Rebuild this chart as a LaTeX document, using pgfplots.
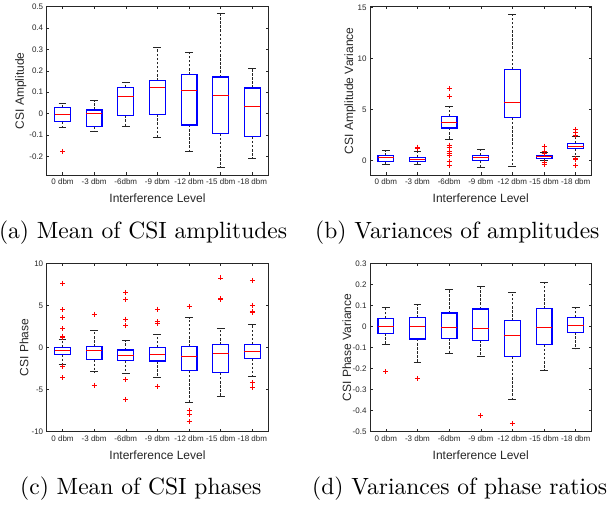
\documentclass[border=0pt]{standalone}
\usepackage{fontspec}
\setsansfont{Liberation Sans}
\newfontfamily\capfont{lmroman10-regular}[Extension=.otf]
\usepackage{pgfplots}
\pgfplotsset{compat=1.18}
\usepgfplotslibrary{statistics}

\definecolor{axgray}{RGB}{38,38,38}
\definecolor{boxblue}{RGB}{0,0,255}
\definecolor{medred}{RGB}{255,0,0}

\pgfplotsset{
  panel/.style={
    scale only axis, width=221.5pt, height=168.3pt,
    xmin=0.5, xmax=7.5, xtick={1,...,7},
    xticklabels={0 dbm,-3 dbm,-6dbm,-9 dbm,-12 dbm,-15 dbm,-18 dbm},
    tick align=inside, major tick length=2.5pt,
    axis line style={draw=axgray, line width=0.5pt},
    tick style={draw=axgray, line width=0.5pt},
    tick label style={font=\sffamily\fontsize{8}{9}\selectfont, text=axgray},
    label style={font=\sffamily\fontsize{12}{14}\selectfont, text=axgray},
    /pgf/number format/assume math mode=true,
    yticklabel style={/pgf/number format/fixed, /pgf/number format/precision=1},
    xlabel={Interference Level},
    x label style={at={(axis description cs:0.5,-0.137)}, anchor=center},
  },
  mybox/.style={
    draw=boxblue, color=boxblue,
    boxplot/draw direction=y,
    boxplot/box extend=0.5,
    boxplot/whisker extend=0.25,
    boxplot/draw/box/.code={%
      \draw[draw=boxblue, line width=1.2pt]
        (boxplot box cs:\pgfplotsboxplotvalue{lower quartile},0) rectangle
        (boxplot box cs:\pgfplotsboxplotvalue{upper quartile},1);
    },
    boxplot/draw/median/.code={%
      \draw[draw=medred, line width=1pt]
        (boxplot box cs:\pgfplotsboxplotvalue{median},0) --
        (boxplot box cs:\pgfplotsboxplotvalue{median},1);
    },
    boxplot/draw/lower whisker/.code={%
      \draw[axgray, line width=0.7pt, dash pattern=on 2.5pt off 1.6pt]
        (boxplot box cs:\pgfplotsboxplotvalue{lower quartile},0.5) --
        (boxplot box cs:\pgfplotsboxplotvalue{lower whisker},0.5);
      \draw[axgray, line width=0.8pt]
        (boxplot whisker cs:\pgfplotsboxplotvalue{lower whisker},0) --
        (boxplot whisker cs:\pgfplotsboxplotvalue{lower whisker},1);
    },
    boxplot/draw/upper whisker/.code={%
      \draw[axgray, line width=0.7pt, dash pattern=on 2.5pt off 1.6pt]
        (boxplot box cs:\pgfplotsboxplotvalue{upper quartile},0.5) --
        (boxplot box cs:\pgfplotsboxplotvalue{upper whisker},0.5);
      \draw[axgray, line width=0.8pt]
        (boxplot whisker cs:\pgfplotsboxplotvalue{upper whisker},0) --
        (boxplot whisker cs:\pgfplotsboxplotvalue{upper whisker},1);
    },
  },
  outl/.style={only marks, mark=+, mark size=2.5pt, medred, line width=0.9pt},
}

% position, lower whisker, lower quartile, median, upper quartile, upper whisker
\newcommand{\bx}[6]{\addplot[mybox, boxplot prepared={draw position=#1,
  lower whisker=#2, lower quartile=#3, median=#4,
  upper quartile=#5, upper whisker=#6}] coordinates {};}

\begin{document}
\begin{tikzpicture}
\useasboundingbox (0,0) rectangle (610pt,505pt);
\clip (0,0) rectangle (610pt,505pt);

% (a) mean of amplitudes
\begin{axis}[panel, at={(46.7pt,330pt)}, anchor=south west,
  ymin=-0.287, ymax=0.5, ytick={-0.2,-0.1,0,0.1,0.2,0.3,0.4,0.5},
  ylabel={CSI Amplitude},
  y label style={at={(axis description cs:-0.1175,0.5)}, anchor=center}]
\bx{1}{-0.066}{-0.038}{-0.006}{0.028}{0.047}
\bx{2}{-0.085}{-0.060}{0.000}{0.017}{0.063}
\bx{3}{-0.058}{-0.008}{0.079}{0.123}{0.146}
\bx{4}{-0.113}{-0.003}{0.123}{0.154}{0.311}
\bx{5}{-0.176}{-0.053}{0.108}{0.182}{0.285}
\bx{6}{-0.250}{-0.093}{0.085}{0.171}{0.469}
\bx{7}{-0.208}{-0.108}{0.033}{0.120}{0.212}
\addplot[outl] coordinates {(1,-0.176)};
\end{axis}

% (b) variance of amplitudes
\begin{axis}[panel, at={(370pt,330pt)}, anchor=south west,
  ymin=-1.45, ymax=15.1, ytick={0,5,10,15},
  ylabel={CSI Amplitude Variance},
  y label style={at={(axis description cs:-0.0904,0.5)}, anchor=center}]
\bx{1}{-0.43}{-0.16}{0.23}{0.49}{0.95}
\bx{2}{-0.43}{-0.13}{0.07}{0.30}{0.85}
\bx{3}{2.04}{3.18}{3.74}{4.33}{5.32}
\bx{4}{-0.66}{-0.03}{0.26}{0.49}{1.05}
\bx{5}{-0.59}{4.17}{5.65}{8.93}{14.35}
\bx{6}{-0.03}{0.20}{0.33}{0.46}{0.79}
\bx{7}{0.39}{1.12}{1.38}{1.64}{2.36}
\addplot[outl] coordinates {
  (2,1.28) (2,1.15)
  (3,7.03) (3,6.30) (3,1.48) (3,1.21) (3,0.89) (3,0.66) (3,0.49) (3,-0.10) (3,-0.49)
  (6,1.38) (6,0.89) (6,0.66) (6,-0.26) (6,-0.43)
  (7,3.02) (7,2.69) (7,2.45) (7,0.13) (7,0.07) (7,-0.49)
};
\end{axis}

% (c) mean of phases
\begin{axis}[panel, at={(46.7pt,73.3pt)}, anchor=south west,
  ymin=-10, ymax=10, ytick={-10,-5,0,5,10},
  ylabel={CSI Phase},
  y label style={at={(axis description cs:-0.1025,0.5)}, anchor=center}]
\bx{1}{-1.97}{-0.82}{-0.38}{0.00}{0.98}
\bx{2}{-2.89}{-1.41}{-0.30}{0.10}{2.01}
\bx{3}{-3.13}{-1.57}{-0.94}{-0.30}{0.90}
\bx{4}{-3.57}{-1.61}{-0.82}{0.00}{1.57}
\bx{5}{-6.57}{-2.77}{-1.02}{0.10}{3.57}
\bx{6}{-5.77}{-3.01}{-0.70}{0.34}{2.25}
\bx{7}{-3.37}{-1.30}{-0.42}{0.38}{2.77}
\addplot[outl] coordinates {
  (1,7.67) (1,4.48) (1,3.60) (1,2.25) (1,1.37) (1,1.20) (1,-2.29) (1,-3.60)
  (2,3.96) (2,-4.48)
  (3,6.55) (3,5.75) (3,3.37) (3,2.57) (3,-3.80) (3,-6.15)
  (4,4.56) (4,3.05) (4,2.89) (4,-4.60)
  (5,4.84) (5,-7.48) (5,-7.96) (5,-8.76)
  (6,8.27) (6,5.79) (6,5.67)
  (7,7.99) (7,5.04) (7,4.28) (7,4.16) (7,-4.20) (7,-4.80)
};
\end{axis}

% (d) variance of phase ratios
\begin{axis}[panel, at={(370pt,73.3pt)}, anchor=south west,
  ymin=-0.5, ymax=0.3, ytick={-0.5,-0.4,-0.3,-0.2,-0.1,0,0.1,0.2,0.3},
  ylabel={CSI Phase Variance},
  y label style={at={(axis description cs:-0.105,0.5)}, anchor=center}]
\bx{1}{-0.087}{-0.032}{-0.002}{0.038}{0.091}
\bx{2}{-0.170}{-0.059}{0.002}{0.041}{0.107}
\bx{3}{-0.127}{-0.056}{-0.003}{0.064}{0.175}
\bx{4}{-0.140}{-0.065}{-0.010}{0.083}{0.189}
\bx{5}{-0.345}{-0.143}{-0.043}{0.027}{0.164}
\bx{6}{-0.207}{-0.086}{-0.006}{0.084}{0.211}
\bx{7}{-0.105}{-0.027}{0.005}{0.043}{0.091}
\addplot[outl] coordinates {(1,-0.215) (2,-0.246) (4,-0.425) (5,-0.461)};
\end{axis}

\begin{scope}[every node/.style={inner sep=0pt, font=\capfont\fontsize{23.5}{28}\selectfont}]
\node[anchor=base east] at (287.3pt,266pt) {(a) Mean of CSI amplitudes};
\node[anchor=base west] at (315pt,266pt) {(b) Variances of amplitudes};
\node[anchor=base west] at (20pt,10pt) {(c) Mean of CSI phases};
\node[anchor=base west] at (312pt,10pt) {(d) Variances of phase ratios};
\end{scope}
\end{tikzpicture}
\end{document}
